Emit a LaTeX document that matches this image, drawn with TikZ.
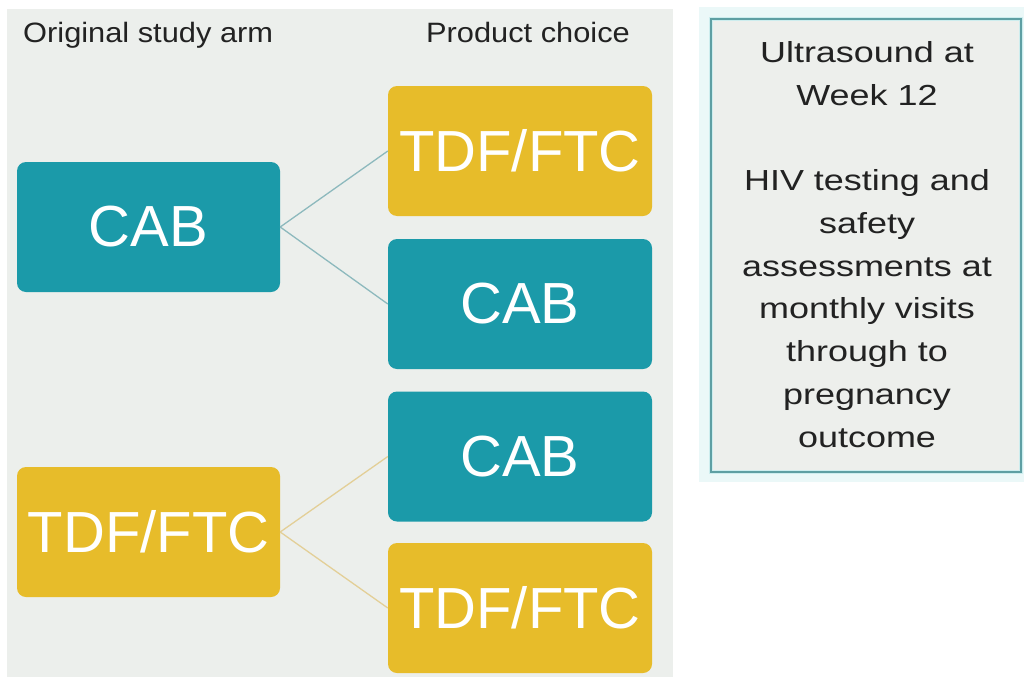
\documentclass[tikz,border=0pt]{standalone}
\usepackage{fontspec}
\setmainfont{Liberation Sans}
\newfontfamily\headfont[FakeStretch=1.1]{Liberation Sans}
\newfontfamily\notefont[FakeStretch=1.24]{Liberation Sans}
\definecolor{panelgray}{HTML}{ECEFEC}
\definecolor{armteal}{HTML}{1B9AA9}
\definecolor{armgold}{HTML}{E7BC2A}
\definecolor{tealline}{HTML}{8DB9BD}
\definecolor{goldline}{HTML}{E3CF97}
\definecolor{boxedge}{HTML}{5E9FA3}
\definecolor{boxglow}{HTML}{CDEDEE}
\definecolor{boxfill}{HTML}{EDEFEC}
\definecolor{inktext}{HTML}{222222}
\tikzset{
  arm/.style={rectangle, rounded corners=9pt, minimum width=263pt,
    minimum height=130pt, inner sep=0pt, text=white,
    font=\fontsize{58}{60}\selectfont},
  tealarm/.style={arm, fill=armteal},
  goldarm/.style={arm, fill=armgold},
  header/.style={text=inktext, font=\headfont\fontsize{28}{30}\selectfont, inner sep=0pt},
  branch/.style={line width=1.3pt},
}
\begin{document}
\begin{tikzpicture}[x=1pt, y=-1pt]
  \useasboundingbox (0,0) rectangle (1024,677);
  \fill[white] (0,0) rectangle (1024,677);

  % background panel of the flow chart
  \fill[panelgray] (7,9) rectangle (673,677);

  % column headers
  \node[header, anchor=base west] (hArm) at (23,42) {Original study arm};
  \node[header, anchor=base] (hChoice) at (528,42) {Product choice};

  % original study arm
  \node[tealarm] (armCAB) at (148.5,227) {CAB};
  \node[goldarm] (armTDF) at (148.5,532) {TDF/FTC};

  % product choice
  \node[goldarm, minimum width=264pt] (chA) at (520,151) {TDF/FTC};
  \node[tealarm, minimum width=264pt] (chB) at (520,304) {CAB};
  \node[tealarm, minimum width=264pt] (chC) at (520,456.5) {CAB};
  \node[goldarm, minimum width=264pt] (chD) at (520,608) {TDF/FTC};

  % branches
  \draw[branch, tealline] (armCAB.east) -- (chA.west);
  \draw[branch, tealline] (armCAB.east) -- (chB.west);
  \draw[branch, goldline] (armTDF.east) -- (chC.west);
  \draw[branch, goldline] (armTDF.east) -- (chD.west);

  % follow-up box
  \fill[boxglow!40!white] (699,7) rectangle (1024,482);
  \draw[boxglow, line width=4pt, fill=boxfill] (711,19) rectangle (1021,472);
  \draw[boxedge, line width=1.6pt] (711,19) rectangle (1021,472);
  \node[text=inktext, align=center, inner sep=0pt, anchor=base,
        font=\notefont\fontsize{29}{42.67}\selectfont] (follow) at (867,447)
    {Ultrasound at\\Week 12\\[42.67pt]HIV testing and\\safety\\assessments at\\monthly visits\\through to\\pregnancy\\outcome};
\end{tikzpicture}
\end{document}
